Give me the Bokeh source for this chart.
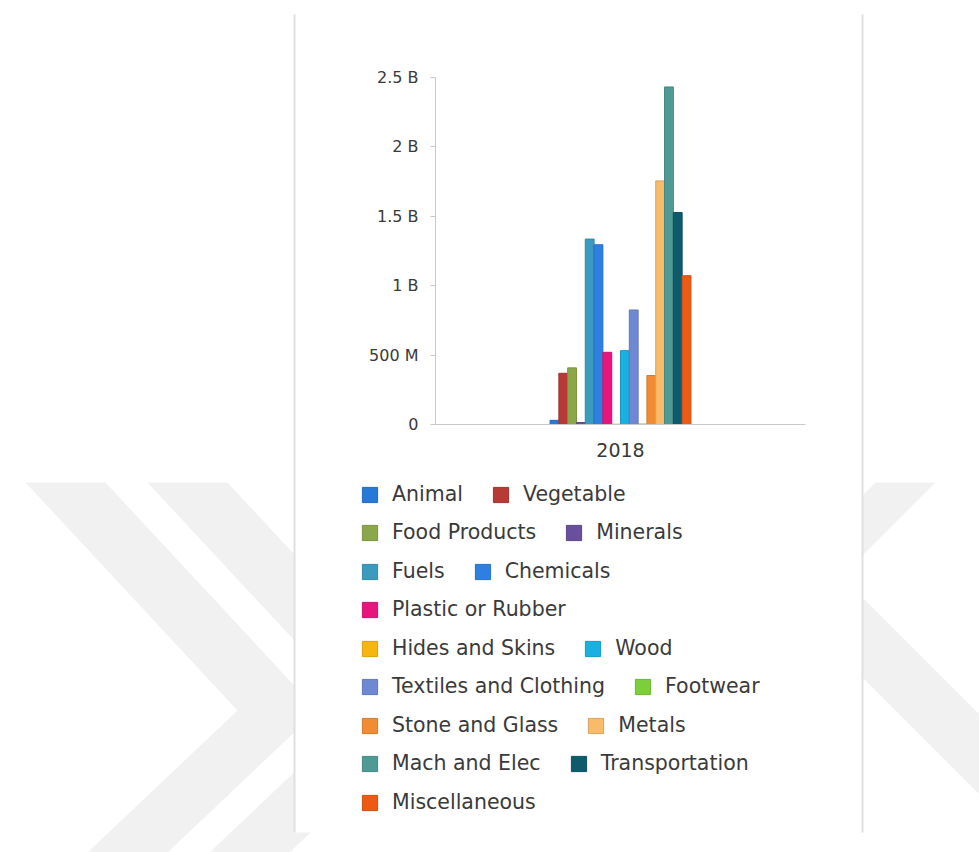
from bokeh.plotting import figure
from bokeh.models import (Range1d, FixedTicker, Legend, LegendItem, LinearAxis,
                          ColumnDataSource)
from bokeh.embed import file_html
from bokeh.resources import INLINE

# ---------------- data ----------------
years = ["2018"]
categories = ["Animal", "Vegetable", "Food Products", "Minerals", "Fuels", "Chemicals",
              "Plastic or Rubber", "Hides and Skins", "Wood", "Textiles and Clothing",
              "Footwear", "Stone and Glass", "Metals", "Mach and Elec", "Transportation",
              "Miscellaneous"]
values = [30e6, 369e6, 408e6, 14e6, 1336e6, 1295e6,
          520e6, 2e6, 532e6, 825e6,
          3e6, 353e6, 1755e6, 2432e6, 1527e6,
          1072e6]
colors = ["#2878d8", "#b83a36", "#8aa84a", "#6a4f9e", "#3a9bbf", "#2d7fe0",
          "#e8157c", "#f7b512", "#1ab0e0", "#6e88d4",
          "#7ccf3a", "#f28c33", "#f7bb6a", "#4f9a94", "#0f5b6e",
          "#ee5a13"]
tick_values = [0, 500e6, 1000e6, 1500e6, 2000e6, 2500e6]
tick_labels = ["0", "500 M", "1 B", "1.5 B", "2 B", "2.5 B"]
legend_rows = [["Animal", "Vegetable"], ["Food Products", "Minerals"],
               ["Fuels", "Chemicals"], ["Plastic or Rubber"],
               ["Hides and Skins", "Wood"], ["Textiles and Clothing", "Footwear"],
               ["Stone and Glass", "Metals"], ["Mach and Elec", "Transportation"],
               ["Miscellaneous"]]

# ---------------- layout constants (canvas px) ----------------
W, H = 979, 852
FL, FR, FT, FB = 435, 805, 77, 424   # plot area edges
YMAX = 2.5e9
FONT = "DejaVu Sans"
TXT = "#3a3a3a"
AXC = "#c8c8c8"


def darker(hex_color, f=0.88):
    h = hex_color.lstrip("#")
    r, g, b = (int(h[i:i + 2], 16) for i in (0, 2, 4))
    return "#%02x%02x%02x" % (int(r * f), int(g * f), int(b * f))


# data ranges chosen so that category span [0, n_years] fills FL..FR and 0..YMAX fills FB..FT
nx = len(years)
xu = nx / (FR - FL)          # x data units per px
yu = YMAX / (FB - FT)        # y data units per px
x_range = Range1d(-FL * xu, nx + (W - FR) * xu)
y_range = Range1d(-(H - FB) * yu, YMAX + FT * yu)

p = figure(width=W, height=H, x_range=x_range, y_range=y_range,
           x_axis_type=None, y_axis_type=None,
           output_backend="svg", toolbar_location=None, min_border=0)
p.outline_line_color = None
p.background_fill_color = "white"
p.border_fill_color = "white"
p.grid.visible = False

# pixel-space ranges for page decoration
p.extra_x_ranges = {"px": Range1d(0, W)}
p.extra_y_ranges = {"px": Range1d(H, 0)}

# ---------------- background decoration ----------------
wm = "#f1f1f1"
bands = [
    [(25, 482), (105, 482), (317, 710), (167, 852), (87, 852), (237, 710)],
    [(147, 482), (227, 482), (439, 710), (289, 852), (209, 852), (359, 710)],
    [(875, 482), (935, 482), (800, 617), (740, 617)],
    [(790, 525), (1000, 735), (1000, 815), (790, 605)],
]
p.patches(xs=[[x for x, _ in b] for b in bands], ys=[[y for _, y in b] for b in bands],
          fill_color=wm, line_color=None, x_range_name="px", y_range_name="px")
p.quad(left=[294], right=[862], top=[14], bottom=[832], fill_color="white",
       line_color=None, x_range_name="px", y_range_name="px")
p.quad(left=[293, 861], right=[295, 863], top=[14, 14], bottom=[832, 832],
       fill_color="#e0e0e0", line_color=None, x_range_name="px", y_range_name="px")

# ---------------- bars ----------------
n = len(categories)
bw = 0.0238
renderers = {}
for i, (cat, val, col) in enumerate(zip(categories, values, colors)):
    xs = [j + 0.5 + (i - (n - 1) / 2) * bw for j in range(nx)]
    src = ColumnDataSource(dict(x=xs, top=[val]))
    r = p.vbar(x="x", top="top", width=bw, source=src, fill_color=col,
               line_color=darker(col), line_width=1)
    renderers[cat] = r

# ---------------- axes ----------------
ya = LinearAxis(fixed_location=0, bounds=(0, YMAX), ticker=FixedTicker(ticks=tick_values))
ya.major_label_overrides = {int(v): lab for v, lab in zip(tick_values, tick_labels)}
ya.axis_line_color = AXC
ya.major_tick_line_color = AXC
ya.major_tick_out = 5
ya.major_tick_in = 0
ya.minor_tick_line_color = None
ya.major_label_text_font = FONT
ya.major_label_text_font_size = "16px"
ya.major_label_text_color = TXT
ya.major_label_standoff = 12
p.add_layout(ya, "left")

xa = LinearAxis(fixed_location=0, bounds=(0, nx),
                ticker=FixedTicker(ticks=[j + 0.5 for j in range(nx)]))
xa.major_label_overrides = {j + 0.5: y for j, y in enumerate(years)}
xa.axis_line_color = AXC
xa.major_tick_line_color = None
xa.minor_tick_line_color = None
xa.major_label_text_font = FONT
xa.major_label_text_font_size = "19px"
xa.major_label_text_color = TXT
xa.major_label_standoff = 12
p.add_layout(xa, "below")

# ---------------- legend rows ----------------
row_centers = [494, 532, 571, 609, 648, 686, 725, 763, 802]
row_h = 24
for row, cy in zip(legend_rows, row_centers):
    items = [LegendItem(label=c, renderers=[renderers[c]]) for c in row]
    leg = Legend(items=items, orientation="horizontal",
                 location=(360, H - (cy + row_h / 2)),
                 label_text_font=FONT, label_text_font_size="20.5px",
                 label_text_color=TXT, glyph_width=19, glyph_height=19,
                 label_standoff=13, spacing=28, padding=0, margin=0,
                 label_height=row_h, border_line_color=None,
                 background_fill_alpha=0)
    p.add_layout(leg)

open("out.html", "w").write(file_html(p, INLINE))
